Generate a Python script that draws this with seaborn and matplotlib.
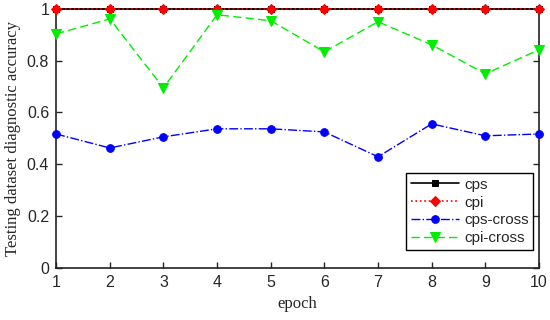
import matplotlib
matplotlib.use("Agg")
import matplotlib.pyplot as plt
import seaborn as sns

epochs = [1, 2, 3, 4, 5, 6, 7, 8, 9, 10]
cps = [1, 1, 1, 1, 1, 1, 1, 1, 1, 1]
cpi = [1, 1, 1, 1, 1, 1, 1, 1, 1, 1]
cps_cross = [0.517, 0.463, 0.506, 0.537, 0.537, 0.525, 0.429, 0.556, 0.510, 0.517]
cpi_cross = [0.903, 0.961, 0.695, 0.977, 0.954, 0.834, 0.950, 0.861, 0.749, 0.842]

sns.set_style("ticks")
plt.rcParams['font.family'] = ['Liberation Sans', 'DejaVu Sans']
plt.rcParams['xtick.direction'] = 'in'
plt.rcParams['ytick.direction'] = 'in'

fig = plt.figure(figsize=(5.5, 3.2), dpi=100)
ax = fig.add_axes([0.102, 0.1625, 0.878, 0.81])

sns.lineplot(x=epochs, y=cps, ax=ax, color='black', linestyle='-', marker='s',
             markersize=5, markeredgecolor='black', linewidth=1.2, label='cps', clip_on=False)
sns.lineplot(x=epochs, y=cpi, ax=ax, color='red', linestyle=':', marker='D',
             markersize=5, markeredgecolor='red', linewidth=1.2, label='cpi', clip_on=False)
sns.lineplot(x=epochs, y=cps_cross, ax=ax, color='blue', linestyle='-.', marker='o',
             markersize=5.5, markeredgecolor='blue', linewidth=1, label='cps-cross', clip_on=False)
sns.lineplot(x=epochs, y=cpi_cross, ax=ax, color='#00ee00', linestyle=(0, (6, 3)), marker='v',
             markersize=6.5, markeredgecolor='#00ee00', linewidth=1, label='cpi-cross', clip_on=False)

ax.set_xlim(1, 10)
ax.set_ylim(0, 1)
ax.set_xticks(epochs)
ax.set_yticks([0, 0.2, 0.4, 0.6, 0.8, 1])
ax.set_yticklabels(['0', '0.2', '0.4', '0.6', '0.8', '1'])
ax.tick_params(labelsize=11.5, length=4, width=1, top=False, right=True, pad=5)
for s in ax.spines.values():
    s.set_linewidth(1.2)
    s.set_color('#222222')
    s.set_zorder(1)

ax.set_xlabel('epoch', family='Liberation Serif', fontsize=12)
ax.set_ylabel('Testing dataset diagnostic accuracy', family='Liberation Serif', fontsize=12)

leg = ax.legend(loc='lower right', bbox_to_anchor=(0.988, 0.07), fontsize=11,
                frameon=True, fancybox=False, edgecolor='black', framealpha=1,
                handlelength=3.2, borderpad=0.3, labelspacing=0.25, handletextpad=0.3,
                borderaxespad=0)
leg.get_frame().set_linewidth(1)

fig.savefig('out.png', dpi=100)
